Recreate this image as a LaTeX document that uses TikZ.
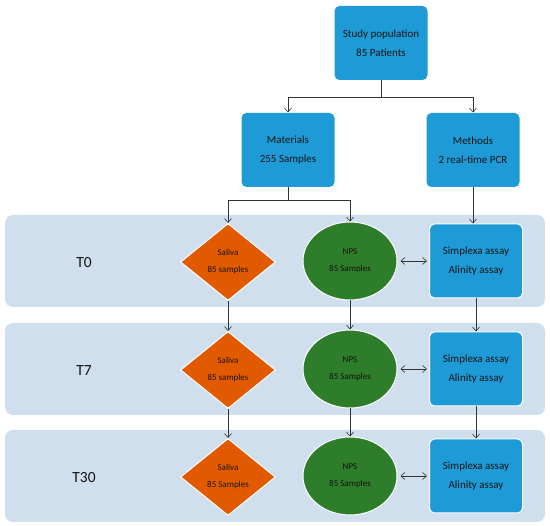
\documentclass[tikz,border=0pt]{standalone}
\usepackage{fontspec}
\setmainfont{Carlito}
\usetikzlibrary{shapes.geometric,arrows.meta}
\definecolor{boxblue}{RGB}{30,155,215}
\definecolor{bandblue}{RGB}{207,223,238}
\definecolor{salorange}{RGB}{226,90,0}
\definecolor{npsgreen}{RGB}{46,125,42}
\definecolor{txt}{RGB}{20,20,20}
\tikzset{
  bluebox/.style={rectangle, rounded corners=5pt, fill=boxblue, draw=white, line width=1pt,
    minimum width=93pt, minimum height=74pt, align=center, text=txt,
    font=\fontsize{11}{19}\selectfont},
  band/.style={fill=bandblue, rounded corners=8pt},
  saliva/.style={diamond, aspect=1.23, inner sep=0pt, fill=salorange, draw=white, line width=1pt,
    minimum width=95pt, minimum height=77pt, align=center, text=txt,
    font=\fontsize{9}{17}\selectfont},
  nps/.style={ellipse, inner sep=0pt, fill=npsgreen, draw=white, line width=1pt,
    minimum width=94pt, minimum height=78pt, align=center, text=txt,
    font=\fontsize{9}{17}\selectfont},
  timelabel/.style={font=\fontsize{15.5}{18}\selectfont, text=txt},
  link/.style={draw=black!80, line width=0.6pt, -{Straight Barb[length=4pt,width=7pt]}},
}
\begin{document}
\begin{tikzpicture}[x=1pt, y=-1pt]
\useasboundingbox (0,0) rectangle (550,526);
% top part
\node[bluebox, draw=none] (study) at (381,43) {Study population\\85 Patients};
\node[bluebox, draw=none] (materials) at (288,150) {Materials\\255 Samples};
\node[bluebox, draw=none] (methods) at (473,150) {Methods\\2 real-time PCR};
\draw[link] (study.south) -- ++(0,17) -| (materials.north);
\draw[link] (study.south) -- ++(0,17) -| (methods.north);
% the three time points
\foreach \i/\t/\y/\s in {0/T0/261/samples, 1/T7/369/samples, 2/T30/476/Samples} {
  \fill[band] (5,\y-46) rectangle (545,\y+46);
  \node[timelabel] (time\i) at (84,\y+2) {\t};
  \node[saliva] (sal\i) at (228,\y+1) {Saliva\\85 \s};
  \node[nps] (nps\i) at (350,\y) {NPS\\85 Samples};
  \node[bluebox] (assay\i) at (476,\y) {Simplexa assay\\Alinity assay};
  \draw[link, {Straight Barb[length=4pt,width=7pt]}-{Straight Barb[length=4pt,width=7pt]},
    shorten <=3pt, shorten >=2pt] (nps\i) -- (assay\i);
}
\draw[link] (materials.south) -- ++(0,13) -| (sal0.north);
\draw[link] (materials.south) -- ++(0,13) -| (nps0.north);
\draw[link] (methods.south) -- (methods.south |- assay0.north);
\foreach \a/\b in {0/1, 1/2} {
  \draw[link] (sal\a.south) -- (sal\b.north);
  \draw[link] (nps\a.south) -- (nps\b.north);
  \draw[link] (assay\a.south) -- (assay\b.north);
}
\end{tikzpicture}
\end{document}
